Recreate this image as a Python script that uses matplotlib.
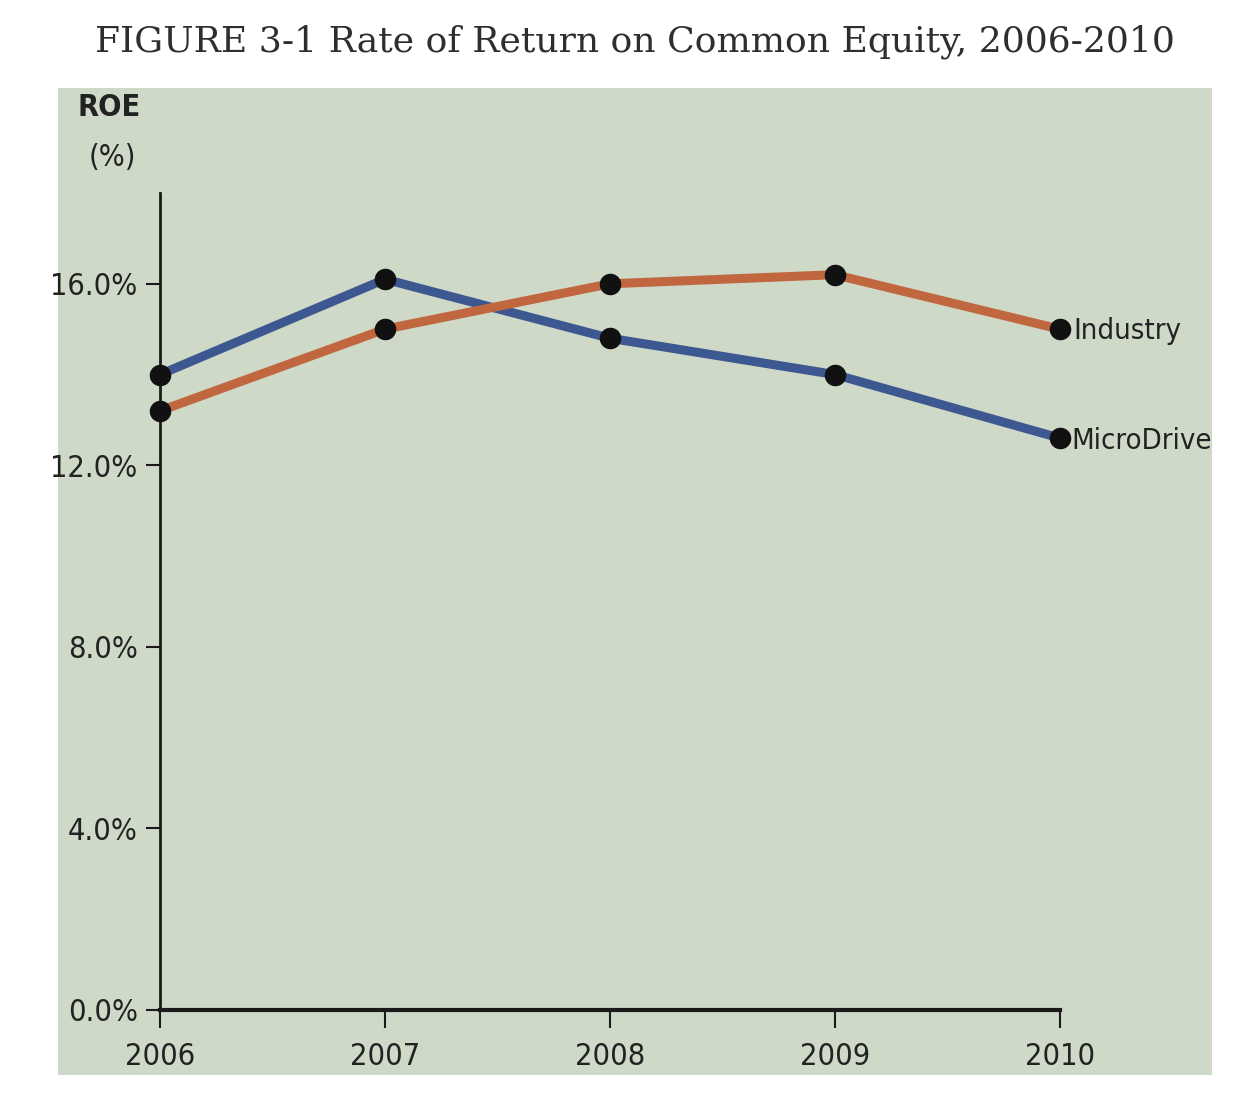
import matplotlib
matplotlib.use('Agg')
import matplotlib.pyplot as plt
from matplotlib.patches import Rectangle

years = [2006, 2007, 2008, 2009, 2010]
microdrive = [14.0, 16.1, 14.8, 14.0, 12.6]
industry = [13.2, 15.0, 16.0, 16.2, 15.0]
y_ticks = [0, 4, 8, 12, 16]
y_labels = ['0.0%', '4.0%', '8.0%', '12.0%', '16.0%']

bg = '#cfd9c8'
blue = '#3d5890'
orange = '#c1673f'
cond = ['DejaVu Sans']

fig = plt.figure(figsize=(12.4, 11.06), dpi=100)

# grey-green panel behind the chart
panel = Rectangle((0.047, 0.028), 0.9305, 0.8925, transform=fig.transFigure,
                  facecolor=bg, edgecolor='none', zorder=-5)
fig.patches.append(panel)

fig.text(0.512, 0.962, 'FIGURE 3-1 Rate of Return on Common Equity, 2006-2010',
         ha='center', va='center', fontsize=26, family='DejaVu Serif', color='#2e2e2e')

ax = fig.add_axes([0.129, 0.0868, 0.7258, 0.7387])
ax.set_facecolor('none')

ax.plot(years, microdrive, color=blue, lw=6.5, marker='o', ms=14.5,
        mfc='#111111', mec='#111111', clip_on=False, zorder=3)
ax.plot(years, industry, color=orange, lw=6.5, marker='o', ms=14.5,
        mfc='#111111', mec='#111111', clip_on=False, zorder=3)

ax.set_xlim(2006, 2010)
ax.set_ylim(0, 18)
ax.set_xticks(years)
ax.set_xticklabels([str(y) for y in years])
ax.set_yticks(y_ticks)
ax.set_yticklabels(y_labels)

for s in ['top', 'right']:
    ax.spines[s].set_visible(False)
ax.spines['left'].set_linewidth(2)
ax.spines['bottom'].set_linewidth(3)
ax.spines['left'].set_color('#1a1a1a')
ax.spines['bottom'].set_color('#1a1a1a')

ax.tick_params(axis='y', direction='out', length=10, width=1.5, pad=6, color='#1a1a1a')
ax.tick_params(axis='x', direction='out', length=13, width=1.5, pad=10, color='#1a1a1a')
for lab in ax.get_xticklabels() + ax.get_yticklabels():
    lab.set_family(cond)
    lab.set_stretch('condensed')
    lab.set_fontsize(22)
    lab.set_color('#222222')

# series names at the right end
t1 = ax.annotate('Industry', (years[-1], industry[-1]), xytext=(10, -1),
                 textcoords='offset points', va='center', ha='left', stretch='condensed',
                 fontsize=21, family=cond, color='#222222', annotation_clip=False)
t2 = ax.annotate('MicroDrive', (years[-1], microdrive[-1]), xytext=(8, -2),
                 textcoords='offset points', va='center', ha='left', stretch='condensed',
                 fontsize=21, family=cond, color='#222222', annotation_clip=False)
t2.set_clip_path(panel)

fig.text(0.088, 0.903, 'ROE', ha='center', va='center', fontsize=22, stretch='condensed',
         family=cond, weight='bold', color='#222222')
fig.text(0.091, 0.858, '(%)', ha='center', va='center', fontsize=22, stretch='condensed',
         family=cond, color='#222222')

fig.savefig('out.png', dpi=100)
